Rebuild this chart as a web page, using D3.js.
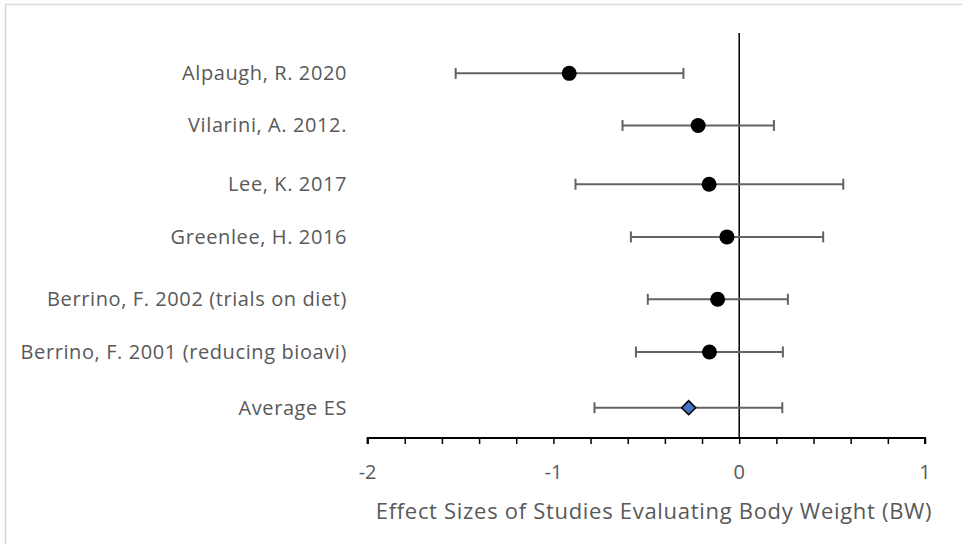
<!DOCTYPE html>
<html>
<head>
<meta charset="utf-8">
<script src="https://cdn.jsdelivr.net/npm/d3@7"></script>
<style>
  html, body { margin: 0; padding: 0; background: #fff; }
  svg { display: block; }
  text { font-family: "Open Sans", sans-serif; fill: #595959; }
</style>
</head>
<body>
<svg id="chart" width="962" height="544"></svg>
<script>
// ---- data ----
const studies = ["Alpaugh, R. 2020", "Vilarini, A. 2012.", "Lee, K. 2017", "Greenlee, H. 2016",
                 "Berrino, F. 2002 (trials on diet)", "Berrino, F. 2001 (reducing bioavi)", "Average ES"];
const effectSize = [-0.915, -0.221, -0.162, -0.066, -0.116, -0.160, -0.272];
const ciLower    = [-1.526, -0.628, -0.881, -0.583, -0.492, -0.556, -0.779];
const ciUpper    = [-0.300,  0.187,  0.560,  0.452,  0.262,  0.235,  0.232];
const rowValue   = [6.02, 5.16, 4.19, 3.32, 2.29, 1.42, 0.50];
const xTicks     = [-2, -1, 0, 1];
const axisTitle  = "Effect Sizes of Studies Evaluating Body Weight (BW)";

// ---- layout ----
const svg = d3.select("#chart");
const x = d3.scaleLinear().domain([-2, 1]).range([367.6, 925]);
const y = d3.scaleLinear().domain([0, 7]).range([438, 14]);

// outer border (left/top visible)
svg.append("rect").attr("x", 5.5).attr("y", 4.5).attr("width", 1000).attr("height", 600)
  .attr("fill", "none").attr("stroke", "#d9d9d9").attr("stroke-width", 1.5);

// vertical zero line
svg.append("line").attr("x1", x(0)).attr("x2", x(0)).attr("y1", 33).attr("y2", y(0))
  .attr("stroke", "#000").attr("stroke-width", 1.5);

// x axis
const minorTicks = d3.range(-2, 1.0001, 0.2).map(v => +v.toFixed(1));
const axis = d3.axisBottom(x).tickValues(minorTicks).tickSize(6).tickFormat("");
const gAxis = svg.append("g").attr("transform", `translate(0,${y(0)})`).call(axis);
gAxis.select(".domain").attr("stroke", "#000").attr("stroke-width", 2).attr("d", `M${x(-2)},6V0H${x(1)}V6`);
gAxis.selectAll(".tick line").attr("stroke", "#000").attr("stroke-width", 1.5);

svg.append("g").selectAll("text").data(xTicks).join("text")
  .attr("x", d => x(d)).attr("y", 479).attr("text-anchor", "middle")
  .style("font-size", "20px").text(d => d);

svg.append("text").attr("x", 654).attr("y", 519).attr("text-anchor", "middle")
  .style("font-size", "22px").style("letter-spacing", "0.7px").text(axisTitle);

// category labels
svg.append("g").selectAll("text").data(studies).join("text")
  .attr("x", 347).attr("y", (d, i) => y(rowValue[i])).attr("dy", "0.35em")
  .attr("text-anchor", "end").style("font-size", "20px").style("letter-spacing", "0.6px").text(d => d);

// error bars
const rows = studies.map((s, i) => ({ s, i, es: effectSize[i], lo: ciLower[i], hi: ciUpper[i], r: rowValue[i] }));
const eb = svg.append("g").attr("stroke", "#636363").attr("stroke-width", 2).attr("fill", "none");
eb.selectAll("line.bar").data(rows).join("line").attr("class", "bar")
  .attr("x1", d => x(d.lo)).attr("x2", d => x(d.hi)).attr("y1", d => y(d.r)).attr("y2", d => y(d.r));
eb.selectAll("line.capL").data(rows).join("line").attr("class", "capL")
  .attr("x1", d => x(d.lo)).attr("x2", d => x(d.lo)).attr("y1", d => y(d.r) - 5.5).attr("y2", d => y(d.r) + 5.5);
eb.selectAll("line.capR").data(rows).join("line").attr("class", "capR")
  .attr("x1", d => x(d.hi)).attr("x2", d => x(d.hi)).attr("y1", d => y(d.r) - 5.5).attr("y2", d => y(d.r) + 5.5);

// markers
svg.append("g").selectAll("circle").data(rows.slice(0, 6)).join("circle")
  .attr("cx", d => x(d.es)).attr("cy", d => y(d.r)).attr("r", 7.5).attr("fill", "#000");

const avg = rows[6];
svg.append("path")
  .attr("d", d3.symbol(d3.symbolSquare, 100)())
  .attr("transform", `translate(${x(avg.es)},${y(avg.r)}) rotate(45)`)
  .attr("fill", "#4472C4").attr("stroke", "#000").attr("stroke-width", 1.5);
</script>
</body>
</html>
